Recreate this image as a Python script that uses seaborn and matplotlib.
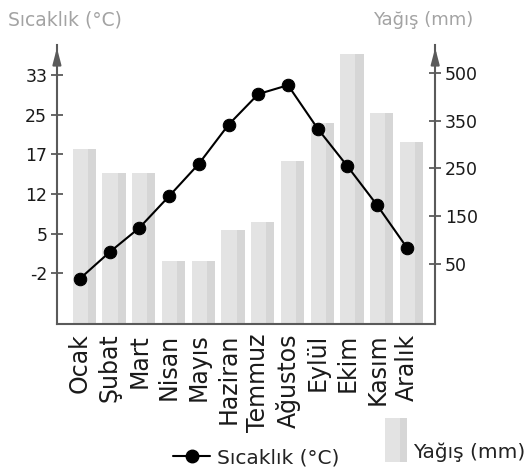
import numpy as np
import seaborn as sns
import matplotlib.pyplot as plt
from matplotlib.lines import Line2D
from matplotlib.patches import Rectangle

months = ["Ocak", "Şubat", "Mart", "Nisan", "Mayıs", "Haziran",
          "Temmuz", "Ağustos", "Eylül", "Ekim", "Kasım", "Aralık"]
temp = [-3, 1.7, 6, 11.6, 15.8, 23, 29.2, 31, 22.2, 15.5, 10, 2.5]
rain = [290, 240, 240, 56, 56, 120, 137, 265, 345, 560, 375, 305]
temp_ticks = [-2, 5, 12, 17, 25, 33]
rain_ticks = [50, 150, 250, 350, 500]

# the axes of the original are not linear: labels sit at equal steps
def piecewise(vals, pos):
    vals = np.asarray(vals, float)
    pos = np.asarray(pos, float)

    def fwd(v):
        v = np.asarray(v, float)
        out = np.interp(v, vals, pos)
        lo = pos[0] + (v - vals[0]) * (pos[1] - pos[0]) / (vals[1] - vals[0])
        hi = pos[-1] + (v - vals[-1]) * (pos[-1] - pos[-2]) / (vals[-1] - vals[-2])
        return np.where(v < vals[0], lo, np.where(v > vals[-1], hi, out))

    def inv(u):
        u = np.asarray(u, float)
        out = np.interp(u, pos, vals)
        lo = vals[0] + (u - pos[0]) * (vals[1] - vals[0]) / (pos[1] - pos[0])
        hi = vals[-1] + (u - pos[-1]) * (vals[-1] - vals[-2]) / (pos[-1] - pos[-2])
        return np.where(u < pos[0], lo, np.where(u > pos[-1], hi, out))

    return fwd, inv

sns.set_style("white")
plt.rcParams['font.family'] = ['DejaVu Sans']

axis_col = "#5a5a5a"
x = np.arange(len(months))

fig = plt.figure(figsize=(5.32, 4.75), dpi=100)
ax = fig.add_axes([0.107, 0.318, 0.711, 0.587])
ax2 = ax.twinx()

# precipitation bars (right axis), light face + darker strip on the right
ax2.set_yscale("function", functions=piecewise([0] + rain_ticks, [-1.26, 0, 1, 2, 3, 4]))
sns.barplot(x=x + 0.15, y=rain, native_scale=True, width=0.78,
            color="#e3e3e3", saturation=1, linewidth=0, edgecolor="none", ax=ax2)
sns.barplot(x=x + 0.405, y=rain, native_scale=True, width=0.27,
            color="#d6d6d6", saturation=1, linewidth=0, edgecolor="none", ax=ax2)
ax2.set_ylim(0, 588)
ax2.set_yticks(rain_ticks)
ax2.set_yticklabels([str(v) for v in rain_ticks])

# temperature line (left axis)
ax.set_yscale("function", functions=piecewise(temp_ticks, range(6)))
sns.lineplot(x=x, y=temp, color="black", linewidth=1.5, marker="o",
             markersize=9, markeredgecolor="black", ax=ax)
ax.set_ylim(-11, 39.1)
ax.set_yticks(temp_ticks)
ax.set_yticklabels([str(v) for v in temp_ticks])
ax.set_zorder(ax2.get_zorder() + 1)
ax.patch.set_visible(False)

ax.set_xlim(-0.77, 11.95)
ax.set_xticks(x)
ax.set_xticklabels(months, rotation=90, fontsize=17, color="#1a1a1a")
ax.set_xticks(x - 0.4, minor=True)
ax.tick_params(axis="x", which="major", length=0, pad=7)
ax.tick_params(axis="x", which="minor", direction="inout", length=16,
               width=1.3, color=axis_col)
ax.tick_params(axis="y", direction="inout", length=8, width=1.3,
               color=axis_col, labelsize=12.5, labelcolor="#1a1a1a", pad=3)
ax2.tick_params(axis="y", direction="inout", length=8, width=1.3,
                color=axis_col, labelsize=12.5, labelcolor="#1a1a1a", pad=3)
for a in (ax, ax2):
    a.set_xlabel("")
    a.set_ylabel("")
    a.spines["top"].set_visible(False)
    for s in a.spines.values():
        s.set_color(axis_col)
        s.set_linewidth(1.5)
ax.spines["right"].set_visible(False)
ax2.spines["left"].set_visible(False)
ax2.spines["bottom"].set_visible(False)

for xa in (0, 1):
    ax.annotate("", xy=(xa, 1.0), xytext=(xa, 0.93), xycoords="axes fraction",
                arrowprops=dict(arrowstyle="-|>,head_length=0.65,head_width=0.17",
                                color=axis_col, lw=1.5, mutation_scale=15))

fig.text(0.015, 0.958, "Sıcaklık (°C)", fontsize=13.5, color="#a3a3a3",
         ha="left", va="center")
fig.text(0.889, 0.958, "Yağış (mm)", fontsize=13, color="#a3a3a3",
         ha="right", va="center")

# legend
h = Line2D([], [], color="black", lw=1.5, marker="o", markersize=9)
fig.legend(handles=[h], labels=["Sıcaklık (°C)"], loc="center left",
           bbox_to_anchor=(0.325, 0.036), frameon=False, fontsize=14.5,
           handlelength=1.85, handletextpad=0.35, borderpad=0,
           borderaxespad=0, labelcolor="#222222")
fig.add_artist(Rectangle((0.7237, 0.027), 0.029, 0.093, transform=fig.transFigure,
                         facecolor="#e3e3e3", edgecolor="none"))
fig.add_artist(Rectangle((0.7527, 0.027), 0.013, 0.093, transform=fig.transFigure,
                         facecolor="#d6d6d6", edgecolor="none"))
fig.text(0.776, 0.048, "Yağış (mm)", fontsize=14.5, color="#222222",
         ha="left", va="center")

fig.savefig("out.png", dpi=100)
